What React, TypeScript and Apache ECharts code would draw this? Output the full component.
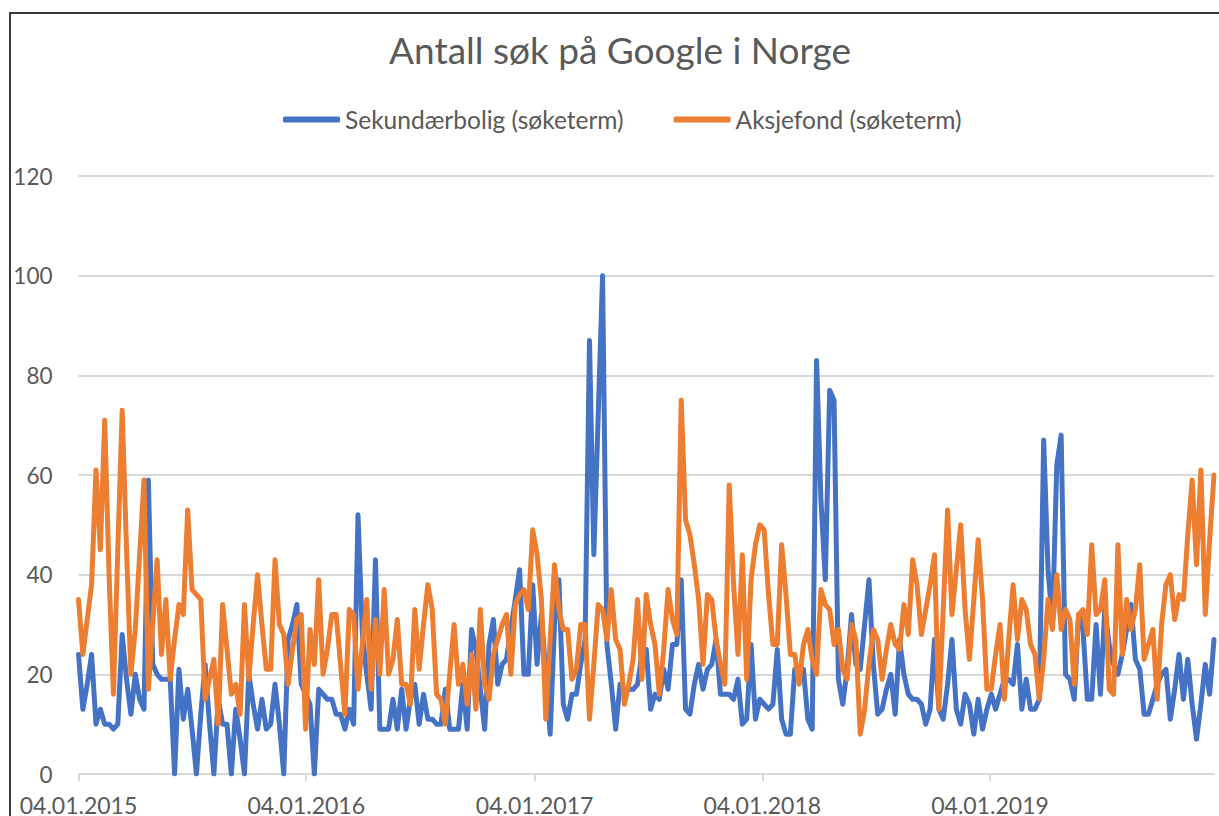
import React, { useEffect, useRef } from "react";
import * as echarts from "echarts";

const TITLE = "Antall søk på Google i Norge";
const NAME_SEKUNDAER = "Sekundærbolig (søketerm)";
const NAME_AKSJEFOND = "Aksjefond (søketerm)";

// weekly observations starting on this date
const FIRST_WEEK = "2015-01-04";
// dates that carry a tick label on the x axis
const X_TICK_DATES = ["2015-01-04", "2016-01-04", "2017-01-04", "2018-01-04", "2019-01-04"];

const Y_MIN = 0;
const Y_MAX = 120;
const Y_STEP = 20;

// Sekundærbolig, weekly values split into blocks of weeks
const SEKUNDAER_W000 = [24, 13, 18, 24, 10, 13, 10, 10, 9, 10, 28, 19, 12, 20, 15, 13, 59, 22, 20, 19, 19, 19, 0, 21, 11, 17, 9, 0, 12, 22, 10, 0, 15, 10, 10, 0, 13, 7, 0, 20, 14, 9, 15, 9, 10, 18];
const SEKUNDAER_W046 = [10, 0, 27, 30, 34, 18, 16, 14, 0, 17, 16, 15, 15, 12, 12, 9, 13, 10, 52, 28, 20, 13, 43, 9, 9, 9, 15, 9, 17, 9, 15, 18, 10, 16, 11, 11, 10, 10, 17, 9, 9, 9, 18];
const SEKUNDAER_W089 = [9, 29, 25, 17, 9, 26, 31, 18, 22, 23, 29, 35, 41, 20, 20, 38, 22, 32, 20, 8, 30, 39, 14, 11, 16, 16, 22, 27, 87, 44, 72, 100, 26, 18, 9, 18, 17, 17, 17, 18, 24, 25, 13, 16];
const SEKUNDAER_W133 = [15, 21, 17, 26, 26, 39, 13, 12, 18, 22, 17, 21, 22, 27, 16, 16, 16, 15, 19, 10, 11, 26, 11, 15, 14, 13, 14, 25, 11, 8, 8, 21, 21, 21, 11, 9, 83, 55, 39, 77, 75, 19, 14];
const SEKUNDAER_W176 = [21, 32, 22, 21, 30, 39, 22, 12, 13, 17, 20, 12, 27, 20, 16, 15, 15, 14, 10, 13, 27, 13, 11, 18, 27, 13, 10, 16, 14, 8, 15, 9, 13, 16, 13, 16, 19, 19, 18, 26, 13, 19, 13, 13];
const SEKUNDAER_W220 = [15, 67, 41, 30, 62, 68, 20, 19, 15, 32, 29, 15, 15, 30, 16, 33, 26, 22, 20, 24, 29, 34, 23, 21, 12, 12, 15, 18, 20, 21, 11, 17, 24, 15, 23, 14, 7, 14, 22, 16, 27];

// Aksjefond, weekly values split into blocks of weeks
const AKSJEFOND_W000 = [35, 24, 31, 38, 61, 45, 71, 40, 16, 45, 73, 45, 20, 29, 44, 59, 17, 30, 43, 24, 35, 19, 27, 34, 32, 53, 37, 36, 35, 15, 19, 23, 10, 34, 25, 16, 18, 12, 34, 19, 30, 40, 30, 21, 21, 43];
const AKSJEFOND_W046 = [30, 28, 18, 25, 31, 32, 9, 29, 22, 39, 20, 25, 32, 32, 22, 12, 33, 32, 17, 26, 35, 17, 31, 20, 37, 20, 23, 31, 18, 18, 14, 33, 21, 30, 38, 33, 16, 15, 10, 20, 30, 18, 22];
const AKSJEFOND_W089 = [14, 24, 13, 33, 18, 15, 24, 27, 30, 32, 20, 34, 36, 37, 33, 49, 44, 35, 11, 27, 42, 33, 29, 29, 19, 21, 30, 30, 11, 22, 34, 33, 27, 37, 27, 25, 14, 18, 23, 35, 19, 36, 30, 26];
const AKSJEFOND_W133 = [16, 25, 37, 31, 28, 75, 51, 48, 42, 35, 22, 36, 35, 27, 22, 18, 58, 38, 24, 44, 19, 39, 46, 50, 49, 36, 26, 26, 46, 36, 24, 24, 18, 26, 29, 23, 20, 37, 34, 33, 26, 29, 21];
const AKSJEFOND_W176 = [19, 30, 27, 8, 13, 22, 29, 27, 19, 25, 30, 26, 25, 34, 28, 43, 38, 28, 33, 38, 44, 13, 33, 53, 32, 41, 50, 33, 23, 35, 47, 35, 17, 17, 24, 30, 15, 27, 38, 27, 35, 33, 26, 24];
const AKSJEFOND_W220 = [15, 23, 35, 29, 40, 29, 33, 31, 18, 32, 33, 28, 46, 32, 33, 39, 17, 16, 46, 24, 35, 29, 33, 42, 23, 26, 29, 15, 30, 38, 40, 31, 36, 35, 48, 59, 42, 61, 32, 47, 60];

const SEKUNDAER = [
  ...SEKUNDAER_W000, ...SEKUNDAER_W046, ...SEKUNDAER_W089,
  ...SEKUNDAER_W133, ...SEKUNDAER_W176, ...SEKUNDAER_W220,
];
const AKSJEFOND = [
  ...AKSJEFOND_W000, ...AKSJEFOND_W046, ...AKSJEFOND_W089,
  ...AKSJEFOND_W133, ...AKSJEFOND_W176, ...AKSJEFOND_W220,
];

const DAY_MS = 86400000;
const weekIndexOf = (iso: string) =>
  (Date.parse(iso + "T00:00:00Z") - Date.parse(FIRST_WEEK + "T00:00:00Z")) / (7 * DAY_MS);
const X_TICK_WEEKS = X_TICK_DATES.map(weekIndexOf);
const toLabel = (iso: string) => {
  const [y, m, d] = iso.split("-");
  return `${d}.${m}.${y}`;
};

const FONT = "Lato, 'Open Sans', sans-serif";
const TEXT_COLOR = "#595959";
const GRID_COLOR = "#D9D9D9";
const BLUE = "#4472C4";
const ORANGE = "#ED7D31";

export default function App() {
  const ref = useRef<HTMLDivElement>(null);

  useEffect(() => {
    if (!ref.current) return;
    const chart = echarts.init(ref.current, undefined, { renderer: "svg" });
    const n = SEKUNDAER.length;
    chart.setOption({
      animation: false,
      backgroundColor: "#ffffff",
      title: {
        text: TITLE,
        left: 620,
        top: 31,
        padding: 0,
        textAlign: "center",
        textStyle: { fontFamily: FONT, fontSize: 37, fontWeight: "normal", color: TEXT_COLOR },
      },
      legend: {
        left: 283,
        top: 107,
        padding: 0,
        itemWidth: 57,
        itemHeight: 6,
        itemGap: 50,
        icon: "roundRect",
        textStyle: { fontFamily: FONT, fontSize: 24.5, color: TEXT_COLOR },
        data: [NAME_SEKUNDAER, NAME_AKSJEFOND],
      },
      graphic: [
        {
          type: "rect",
          shape: { x: 10, y: 13, width: 1240, height: 900 },
          style: { fill: "none", stroke: "#3a3a3a", lineWidth: 2 },
          silent: true,
          z: 100,
        },
      ],
      grid: { left: 78.5, right: 5, top: 176, bottom: 40, containLabel: false },
      xAxis: {
        type: "value",
        min: 0,
        max: n - 1,
        splitLine: { show: false },
        axisLine: { show: true, lineStyle: { color: GRID_COLOR, width: 2 } },
        axisTick: {
          show: true,
          customValues: X_TICK_WEEKS,
          length: 7,
          lineStyle: { color: GRID_COLOR, width: 2 },
        },
        axisLabel: {
          customValues: X_TICK_WEEKS,
          margin: 19,
          fontFamily: FONT,
          fontSize: 23,
          color: TEXT_COLOR,
          formatter: (v: number) => {
            const k = X_TICK_WEEKS.findIndex((w) => Math.abs(w - v) < 1e-6);
            return k >= 0 ? toLabel(X_TICK_DATES[k]) : "";
          },
        },
      },
      yAxis: {
        type: "value",
        min: Y_MIN,
        max: Y_MAX,
        interval: Y_STEP,
        axisLine: { show: false },
        axisTick: { show: false },
        splitLine: { lineStyle: { color: GRID_COLOR, width: 2 } },
        axisLabel: { margin: 26, fontFamily: FONT, fontSize: 22.5, color: TEXT_COLOR },
      },
      series: [
        {
          name: NAME_SEKUNDAER,
          type: "line",
          data: SEKUNDAER.map((v, i) => [i, v]),
          showSymbol: false,
          symbol: "none",
          itemStyle: { color: BLUE },
          lineStyle: { color: BLUE, width: 5, join: "round", cap: "round" },
        },
        {
          name: NAME_AKSJEFOND,
          type: "line",
          data: AKSJEFOND.map((v, i) => [i, v]),
          showSymbol: false,
          symbol: "none",
          itemStyle: { color: ORANGE },
          lineStyle: { color: ORANGE, width: 5, join: "round", cap: "round" },
        },
      ],
    });
    return () => chart.dispose();
  }, []);

  return (
    <div
      ref={ref}
      style={{ position: "fixed", left: 0, top: 0, width: 1219, height: 816, background: "#fff" }}
    />
  );
}
